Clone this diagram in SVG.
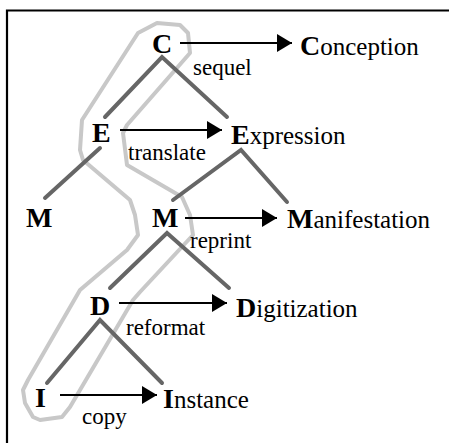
<svg xmlns="http://www.w3.org/2000/svg" width="449" height="443" viewBox="0 0 449 443">
  <style>
    .frame { fill: none; stroke: #000; stroke-width: 2.2; }
    .band { fill: none; stroke: #c8c8c8; stroke-width: 4; stroke-linejoin: round; }
    .branch { fill: none; stroke: #666; stroke-width: 4; stroke-linecap: round; }
    .arrow { stroke: #000; stroke-width: 2; marker-end: url(#head); }
    text { font-family: "Liberation Serif", "DejaVu Serif", "Noto Serif", serif; fill: #000; }
    .node { font-size: 28px; font-weight: bold; }
    .name { font-size: 25px; }
    .name .init { font-size: 28px; font-weight: bold; }
    .label { font-size: 23px; }
  </style>
  <defs>
    <marker id="head" markerUnits="userSpaceOnUse" markerWidth="15" markerHeight="18" refX="15" refY="9" orient="auto">
      <path d="M0,0 L15,9 L0,18 Z" fill="#000"/>
    </marker>
  </defs>

  <rect width="449" height="443" fill="#fff"/>
  <!-- frame: top and left edges -->
  <path class="frame" d="M7,443 V10.5 H449"/>

  <!-- lineage band enclosing C, E, M, D, I -->
  <path class="band" d="M138,33 L157,23 L180,25 L188,33 L190,53 L127,125 L123,133 L127,165 L182,197 L190,215 L193,235 L140,292 L133,300 L70,407 L62,417 L40,420 L33,417 L25,403 L23,390 L28,380 L80,290 L127,250 L138,235 L135,215 L130,200 L83,160 L80,150 L82,120 Z"/>

  <g id="connectors">
    <!-- tree branches -->
    <path class="branch" d="M105,117 L162,57 L227,117"/>
    <path class="branch" d="M100,148 L45,198"/>
    <path class="branch" d="M173,200 L241,150 L287,202"/>
    <path class="branch" d="M110,288 L167,233 L229,288"/>
    <path class="branch" d="M47,383 L100,320 L162,383"/>
    <!-- derivation arrows -->
    <line class="arrow" x1="180" y1="43" x2="292" y2="43"/>
    <line class="arrow" x1="120" y1="130" x2="222" y2="130"/>
    <line class="arrow" x1="185" y1="218" x2="277" y2="218"/>
    <line class="arrow" x1="119" y1="303" x2="227" y2="303"/>
    <line class="arrow" x1="60" y1="395" x2="157" y2="395"/>
    <!-- arrow labels -->
    <text class="label" x="193" y="75" font-family="Liberation Serif, serif">sequel</text>
    <text class="label" x="128" y="160" font-family="Liberation Serif, serif">translate</text>
    <text class="label" x="190" y="248" font-family="Liberation Serif, serif">reprint</text>
    <text class="label" x="126" y="335" font-family="Liberation Serif, serif">reformat</text>
    <text class="label" x="82" y="424" font-family="Liberation Serif, serif">copy</text>
  </g>

  <g id="node-c"><text class="node" x="152" y="53">C</text></g>
  <g id="node-e"><text class="node" x="92" y="142">E</text></g>
  <g id="node-m-left"><text class="node" x="26" y="227">M</text></g>
  <g id="node-m"><text class="node" x="152" y="227">M</text></g>
  <g id="node-d"><text class="node" x="90" y="315">D</text></g>
  <g id="node-i"><text class="node" x="35" y="407">I</text></g>

  <g id="conception"><text class="name" x="300" y="55"><tspan class="init">C</tspan>onception</text></g>
  <g id="expression"><text class="name" x="231" y="144"><tspan class="init">E</tspan>xpression</text></g>
  <g id="manifestation"><text class="name" x="287" y="228"><tspan class="init">M</tspan>anifestation</text></g>
  <g id="digitization"><text class="name" x="236" y="317"><tspan class="init">D</tspan>igitization</text></g>
  <g id="instance"><text class="name" x="163" y="408"><tspan class="init">I</tspan>nstance</text></g>
</svg>
